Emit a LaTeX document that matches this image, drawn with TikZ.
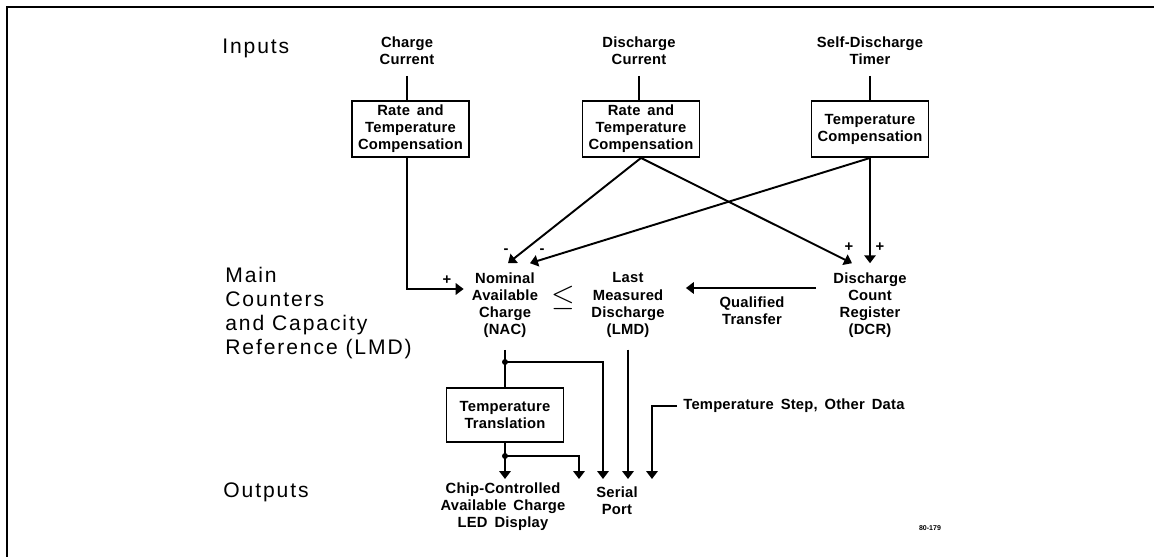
\documentclass[tikz,border=0pt]{standalone}
\usepackage{fontspec}
\usepackage{amssymb}
\setmainfont{Liberation Sans}
\newfontfamily\bigfont{Liberation Sans}[LetterSpace=9]
\newfontfamily\lblfont{Liberation Sans}[LetterSpace=1.5,WordSpace=1.6]
\usetikzlibrary{arrows.meta,calc}

\begin{document}
\begin{tikzpicture}[x=0.02cm,y=-0.02cm,
	every node/.style={inner sep=0pt},
	lbl/.style={font=\lblfont\bfseries\fontsize{8.4}{9.7}\selectfont, align=center},
	big/.style={font=\bigfont\fontsize{12}{13.6}\selectfont, align=left, anchor=west},
	blk/.style={lbl, draw, line width=1.1pt, minimum width=2.34cm, minimum height=1.12cm},
	wire/.style={line width=1.1pt},
	arr/.style={wire, -{Triangle[width=6.5pt,length=4.5pt]}}]
	\useasboundingbox (0,0) rectangle (1154,557);
	\draw [line width=1.6pt] (6,7) -- (1154,7);
	\draw [line width=0.8pt] (7,7) -- (7,557);
	\node [big] (inputs) at (222,48) {Inputs};
	\node [big] (main) at (225,313) {Main\\Counters\\and Capacity\\Reference (LMD)};
	\node [big] (outputs) at (223,492) {Outputs};
	\node [lbl] (in1) at (407,51) {Charge\\Current};
	\node [lbl] (in2) at (639,51) {Discharge\\Current};
	\node [lbl] (in3) at (870,51) {Self-Discharge\\Timer};
	\node [blk] (box1) at (410.5,129) {Rate and\\Temperature\\Compensation};
	\node [blk] (box2) at (641,129) {Rate and\\Temperature\\Compensation};
	\node [blk] (box3) at (870,129) {Temperature\\Compensation};
	\draw [wire] ([yshift=-6pt]in1.south) -- (in1.south |- box1.north);
	\draw [wire] ([yshift=-6pt]in2.south) -- (in2.south |- box2.north);
	\draw [wire] ([yshift=-6pt]in3.south) -- (in3.south |- box3.north);
	\node [lbl] (nac) at (505,305) {Nominal\\Available\\Charge\\(NAC)};
	\node (le) at (563,298) {\fontsize{17}{17}\selectfont$\leq$};
	\node [lbl] (lmd) at (628,305) {Last\\Measured\\Discharge\\(LMD)};
	\node [lbl] (dcr) at (870,305) {Discharge\\Count\\Register\\(DCR)};
	\node [lbl] (qt) at (752,311) {Qualified\\Transfer};
	\draw [arr] (in1.south |- box1.south) |- ($(nac.west)+(-8,-16)$);
	\draw [arr] (box2.south) -- ($(nac.north)+(3,-9)$);
	\draw [arr] (box3.south) -- ($(nac.north)+(25,-9)$);
	\draw [arr] (box2.south) -- ($(dcr.north)+(-18,-9)$);
	\draw [arr] (box3.south) -- ($(dcr.north)+(0,-9)$);
	\draw [arr] ($(dcr.west)+(-17,-17)$) -- ($(lmd.east)+(21,-17)$);
	\node [lbl] at (447,280) {+};
	\node [lbl] at (506,251) {-};
	\node [lbl] at (542,251) {-};
	\node [lbl] at (849,247) {+};
	\node [lbl] at (880,247) {+};
	\coordinate (j1) at (505,362);
	\coordinate (j2) at (505,456);
	\node [blk, minimum height=1.08cm] (tt) at (505,415) {Temperature\\Translation};
	\node [lbl, anchor=west] (ts) at (683,406) {Temperature Step, Other Data};
	\coordinate (o1) at (505,479);
	\coordinate (o2) at (579,479);
	\coordinate (o3) at (603,479);
	\coordinate (o4) at (628,479);
	\coordinate (o5) at (652,479);
	\draw [wire] ($(nac.south)+(0,12)$) -- (j1) -- (tt.north);
	\draw [arr] (j1) -| (o3);
	\draw [wire] (tt.south) -- (j2);
	\draw [arr] (j2) -- (o1);
	\draw [arr] (j2) -| (o2);
	\fill (j1) circle (3);
	\fill (j2) circle (3);
	\draw [arr] ($(lmd.south)+(0,12)$) -- (o4);
	\draw [arr] ($(ts.west)+(-6,0)$) -| (o5);
	\node [lbl] (led) at (503,507) {Chip-Controlled\\Available Charge\\LED Display};
	\node [lbl] (sp) at (617,501) {Serial\\Port};
	\node [font=\bfseries\fontsize{4}{5}\selectfont] (ref) at (930,528) {80-179};
\end{tikzpicture}
\end{document}
